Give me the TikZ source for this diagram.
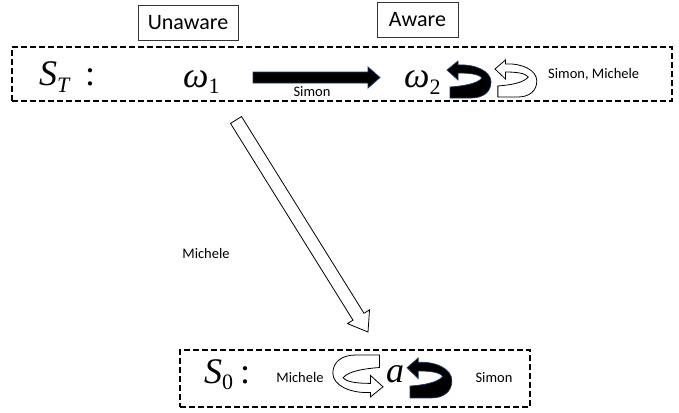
\documentclass[tikz,border=0pt]{standalone}
\usepackage{fontspec}
\setmainfont{Carlito}
\newfontfamily\tms{Liberation Serif}
\usetikzlibrary{calc}
\definecolor{navy}{HTML}{1F3864}
\newcommand{\mbig}{\tms\itshape\fontsize{36}{36}\selectfont}
\newcommand{\mbigup}{\tms\upshape\fontsize{36}{36}\selectfont}
\newcommand{\msub}{\tms\upshape\fontsize{22}{22}\selectfont}
\begin{document}
\begin{tikzpicture}[x=1pt,y=-1pt,
  dashbox/.style={draw, line width=1.8pt, dash pattern=on 6pt off 3pt, minimum width=#1, inner sep=0},
  lblbox/.style={draw=black!80, line width=0.9pt, font=\fontsize{22}{22}\selectfont, inner sep=0, minimum height=35pt},
  lbl/.style={font=\fontsize{14.5}{14.5}\selectfont, inner sep=0},
  mth/.style={anchor=base west, inner sep=0},
  hollow/.style={draw=black, fill=white, line width=0.8pt, line join=miter},
  solidarrow/.style={draw=navy, fill=black, line width=0.7pt},
  curl/.pic={
    \path[pic actions] (0,9) -- (11,0) -- (11,4)
      .. controls (28,3) and (44,10) .. (44,21)
      .. controls (44,31) and (36,37) .. (24,37)
      -- (3,37) -- (3,26)
      .. controls (16,25) and (30,23) .. (35,17)
      .. controls (32,13) and (22,12) .. (11,12)
      -- (11,19) -- cycle;
  }]
\useasboundingbox (0,0) rectangle (679,412);

% state boxes
\node[dashbox=660pt, minimum height=54pt] (ST) at (342,74) {};
\node[dashbox=350pt, minimum height=57pt] (S0) at (355,378.5) {};

% awareness labels
\node[lblbox, minimum width=100pt] (unaware) at (188,23) {Unaware};
\node[lblbox, minimum width=81pt] (aware) at (417.5,20) {Aware};

% top row
\node[mth] (st) at (39,85) {\mbig S\raisebox{-7pt}{\msub\itshape T}};
\node[mth] (stc) at (85,85) {\mbigup :};
\node[mth] (w1) at (183,87) {\mbig ω\raisebox{-6pt}{\msub 1}};
\node[mth] (w2) at (404,87) {\mbig ω\raisebox{-7pt}{\msub 2}};
\node[lbl] (simonA) at (312,92) {Simon};
\node[lbl, anchor=west] (both) at (548,74) {Simon, Michele};

% bottom row
\node[mth] (s0) at (204,383) {\mbig S\raisebox{-6pt}{\msub 0}};
\node[mth] (s0c) at (240,383) {\mbigup :};
\node[lbl] (micB) at (300,378) {Michele};
\node[mth] (a) at (386,382) {\mbig a};
\node[lbl] (simB) at (494,378) {Simon};

% middle label
\node[lbl] (micD) at (206,254) {Michele};

% black arrow omega1 -> omega2
\coordinate (ba) at (253,77.5);
\coordinate (bt) at (380,77.5);
\draw[solidarrow] ($(ba)+(0,-5.5)$) -- ++(115,0) -- ++(0,-5) -- (bt) -- ++(-12,10.5) -- ++(0,-5) -- ++(-115,0) -- cycle;

% reflexive curls
\pic[solidarrow] at (447,61) {curl};
\pic[hollow, xscale=0.95, yscale=1.0] at (495,60) {curl};
\pic[solidarrow, xscale=1.02, yscale=1.08] at (407,358) {curl};
\pic[hollow, xscale=-1.14, yscale=-1.135] at (383,397) {curl};

% diagonal hollow arrow (Michele)
\coordinate (ds) at (236,120);
\coordinate (dt) at (368,332);
\coordinate (dh) at ($(dt)!18pt!(ds)$);
\draw[hollow] ($(ds)!6.5pt!90:(dt)$) -- ($(dh)!6.5pt!-90:(ds)$) -- ($(dh)!13pt!-90:(ds)$) -- (dt)
  -- ($(dh)!13pt!90:(ds)$) -- ($(dh)!6.5pt!90:(ds)$) -- ($(ds)!6.5pt!-90:(dt)$) -- cycle;
\end{tikzpicture}
\end{document}
